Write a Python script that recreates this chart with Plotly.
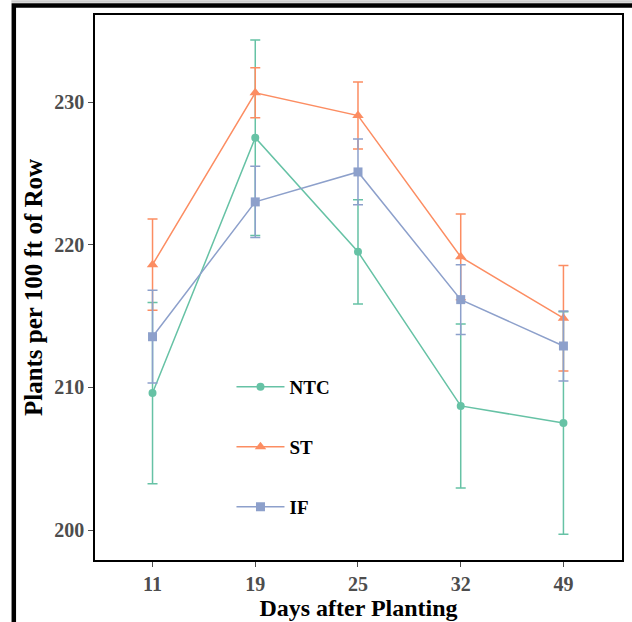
import plotly.graph_objects as go

days = ["11", "19", "25", "32", "49"]
ntc = [209.6, 227.5, 219.5, 208.7, 207.5]
ntc_err = [6.35, 6.85, 3.65, 5.75, 7.8]
st = [218.6, 230.65, 229.05, 219.15, 214.85]
st_err = [3.2, 1.75, 2.35, 3.0, 3.7]
if_vals = [213.55, 223.0, 225.1, 216.15, 212.9]
if_err = [3.25, 2.5, 2.3, 2.45, 2.45]
y_ticks = [200, 210, 220, 230]

series = [
    ("NTC", ntc, ntc_err, "#66c2a5", "circle", 8, "legend"),
    ("ST", st, st_err, "#fc8d62", "triangle-up", 10, "legend2"),
    ("IF", if_vals, if_err, "#8da0cb", "square", 9, "legend3"),
]

SERIF = "Liberation Serif"
fig = go.Figure()
for name, vals, errs, color, sym, size, leg in series:
    fig.add_trace(go.Scatter(
        x=days, y=vals, name=name, mode="lines+markers",
        line=dict(color=color, width=1.5),
        marker=dict(color=color, symbol=sym, size=size),
        error_y=dict(type="data", array=errs, visible=True, color=color,
                     thickness=1.5, width=5),
        legend=leg,
    ))

W, H = 632, 622
ml, mr, mt, mb = 95, 8, 15, 62
pw, ph = W - ml - mr, H - mt - mb

def px_x(p):
    return (p - ml) / pw

def px_y(p):
    return (H - mb - p) / ph

legfont = dict(family=SERIF, size=19, color="black", weight="bold")
legcommon = dict(xanchor="left", yanchor="middle", font=legfont,
                 bgcolor="rgba(0,0,0,0)", itemwidth=48)

fig.update_layout(
    width=W, height=H,
    margin=dict(l=ml, r=mr, t=mt, b=mb),
    paper_bgcolor="white", plot_bgcolor="white",
    showlegend=True,
    legend=dict(x=px_x(232), y=px_y(387), **legcommon),
    legend2=dict(x=px_x(232), y=px_y(447), **legcommon),
    legend3=dict(x=px_x(232), y=px_y(507), **legcommon),
    xaxis=dict(
        type="category", range=[-0.56, 4.57],
        showline=True, linecolor="black", linewidth=1.5, mirror=True,
        ticks="outside", ticklen=5, tickcolor="#4d4d4d", tickwidth=1.2,
        tickfont=dict(family=SERIF, size=20, color="#4d4d4d", weight="bold"),
        showgrid=False, zeroline=False,
        title=dict(text="Days after Planting", standoff=2,
                   font=dict(family=SERIF, size=24, color="black", weight="bold")),
    ),
    yaxis=dict(
        range=[197.9, 236.1], tickvals=y_ticks,
        showline=True, linecolor="black", linewidth=1.5, mirror=True,
        ticks="outside", ticklen=5, tickcolor="#4d4d4d", tickwidth=1.2,
        tickfont=dict(family=SERIF, size=20, color="#4d4d4d", weight="bold"),
        showgrid=False, zeroline=False,
        title=dict(text="Plants per 100 ft of Row", standoff=5,
                   font=dict(family=SERIF, size=25, color="black", weight="bold")),
    ),
    shapes=[
        dict(type="rect", xref="paper", yref="paper",
             x0=px_x(13.5), x1=px_x(660), y0=px_y(700), y1=px_y(5.5),
             line=dict(color="black", width=4.5), fillcolor="rgba(0,0,0,0)",
             layer="above"),
        dict(type="line", xref="paper", yref="paper",
             x0=px_x(11), x1=px_x(660), y0=px_y(1.5), y1=px_y(1.5),
             line=dict(color="#cccccc", width=2.5)),
    ],
)

fig.write_html(
    "out.html",
    config={"displayModeBar": False},
    post_script="document.body.style.margin='0';document.body.style.overflow='hidden';",
)
